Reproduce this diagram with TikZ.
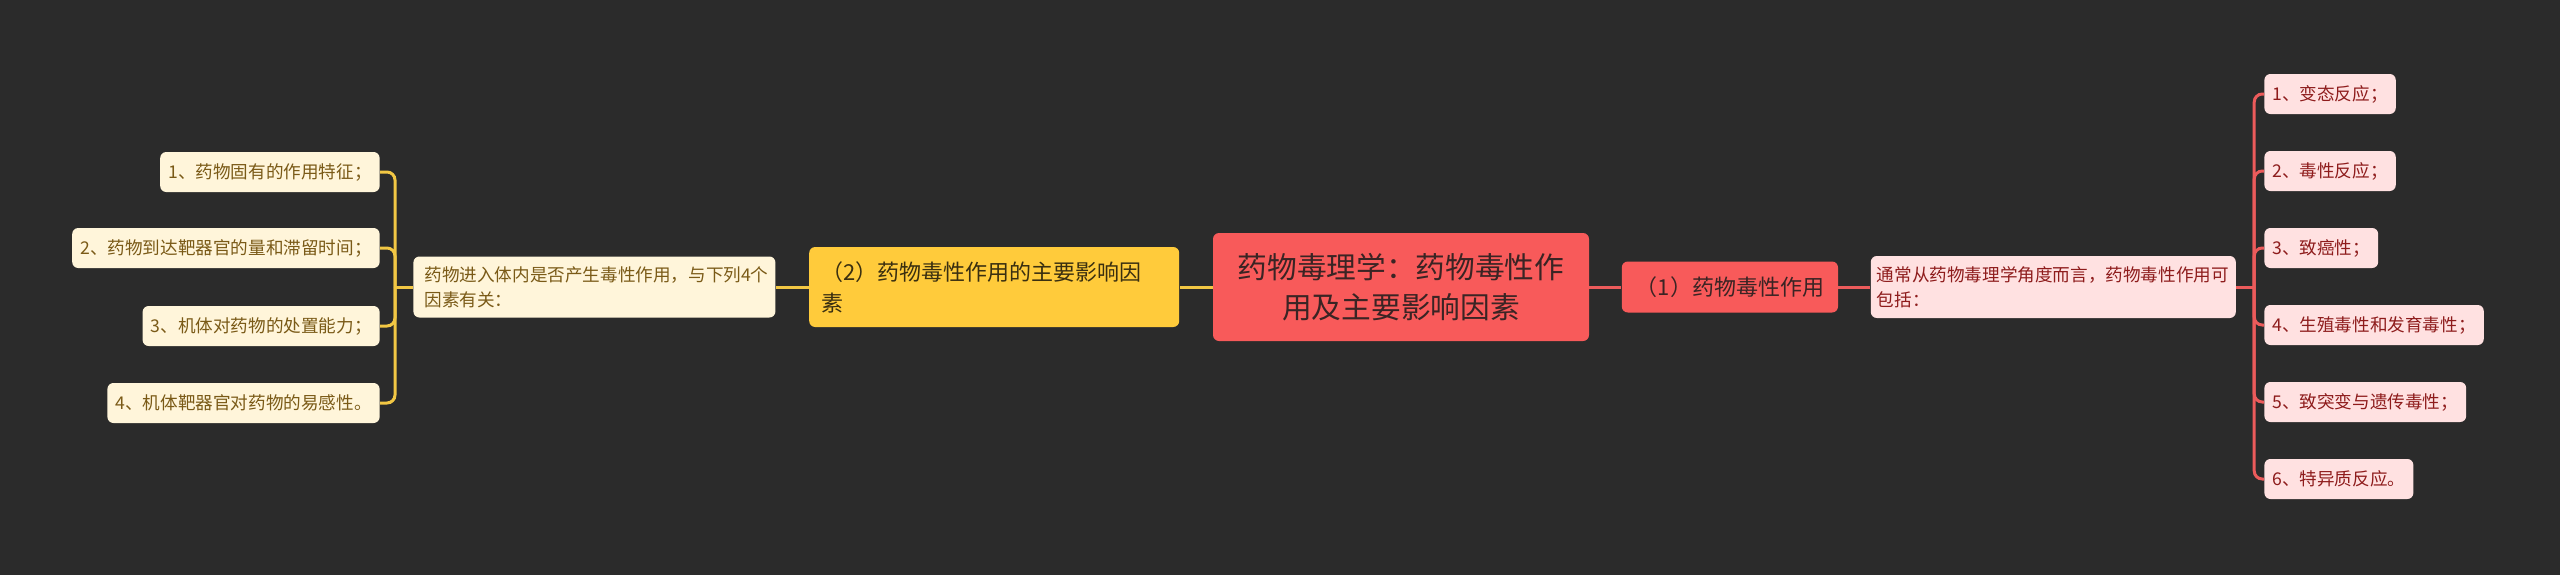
\documentclass[tikz,border=0pt]{standalone}
\usepackage{fontspec}
\setmainfont{Noto Sans CJK SC}
\usepackage{xcolor}
\usetikzlibrary{positioning}

\definecolor{bgcol}{HTML}{2B2B2B}
\definecolor{redfill}{HTML}{F85A5A}
\definecolor{redtext}{HTML}{3A2424}
\definecolor{yelfill}{HTML}{FFCB3B}
\definecolor{yeltext}{HTML}{3A2F10}
\definecolor{creamfill}{HTML}{FFF5DA}
\definecolor{creamtext}{HTML}{7A5A17}
\definecolor{pinkfill}{HTML}{FFE1E1}
\definecolor{pinktext}{HTML}{8E1C1C}
\definecolor{yelline}{HTML}{F2C744}
\definecolor{redline}{HTML}{EC5B5B}

\tikzset{
  box/.style={rounded corners=3pt, inner ysep=0pt},
  rootbox/.style={box, fill=redfill, text=redtext, font=\fontsize{14.85pt}{20pt}\selectfont,
    text width=165pt, align=center, inner xsep=11.5pt, minimum height=54pt},
  yelbox/.style={box, fill=yelfill, text=yeltext, font=\fontsize{11pt}{15.5pt}\selectfont,
    text width=173pt, align=left, inner xsep=6pt, minimum height=40pt},
  redbox/.style={box, fill=redfill, text=redtext, font=\fontsize{11pt}{15.5pt}\selectfont,
    inner xsep=7pt, minimum height=25.5pt},
  creambox/.style={box, fill=creamfill, text=creamtext, font=\fontsize{8.8pt}{12.5pt}\selectfont,
    align=left, inner xsep=5.5pt, minimum height=30.5pt},
  pinkbox/.style={box, fill=pinkfill, text=pinktext, font=\fontsize{8.8pt}{12.5pt}\selectfont,
    align=left, inner xsep=3pt, minimum height=31pt},
  leafl/.style={creambox, anchor=east, inner xsep=4pt, minimum height=20pt},
  leafr/.style={pinkbox, anchor=west, inner xsep=4pt, minimum height=20pt},
  ylink/.style={draw=yelline, line width=1.5pt, rounded corners=4pt},
  rlink/.style={draw=redline, line width=1.5pt, rounded corners=4pt}
}

\begin{document}
\begin{tikzpicture}[x=0.5pt, y=-0.5pt]
  \useasboundingbox (0,0) rectangle (2560,574);
  \fill[bgcol] (-4,-4) rectangle (2564,578);

  \node(root) [rootbox] at (1401,287) {药物毒理学：药物毒性作\\用及主要影响因素};

  \node(factor) [yelbox, left=16.5pt of root] {（2）药物毒性作用的主要影响因\\素};
  \node(enter) [creambox, text width=170pt, left=16.5pt of factor] {药物进入体内是否产生毒性作用，与下列4个\\因素有关：};
  \coordinate[left=9pt of enter] (ljoint);
  \node(fa) [leafl] at (380,172) {1、药物固有的作用特征；};
  \node(fb) [leafl] at (380,248) {2、药物到达靶器官的量和滞留时间；};
  \node(fc) [leafl] at (380,326) {3、机体对药物的处置能力；};
  \node(fd) [leafl] at (380,403) {4、机体靶器官对药物的易感性。};

  \node(toxic) [redbox, right=16pt of root] {（1）药物毒性作用};
  \node(usual) [pinkbox, text width=176.5pt, right=16pt of toxic] {通常从药物毒理学角度而言，药物毒性作用可\\包括：};
  \coordinate[right=9pt of usual] (rjoint);
  \node(ta) [leafr] at (2264,94) {1、变态反应；};
  \node(tb) [leafr] at (2264,171) {2、毒性反应；};
  \node(tc) [leafr] at (2264,248) {3、致癌性；};
  \node(td) [leafr] at (2264,325) {4、生殖毒性和发育毒性；};
  \node(te) [leafr] at (2264,402) {5、致突变与遗传毒性；};
  \node(tf) [leafr] at (2264,479) {6、特异质反应。};

  \draw[ylink] (root) -- (factor);
  \draw[ylink] (factor) -- (enter);
  \draw[ylink] (enter) -- (ljoint);
  \draw[ylink] (ljoint) |- (fa.east);
  \draw[ylink] (ljoint) |- (fb.east);
  \draw[ylink] (ljoint) |- (fc.east);
  \draw[ylink] (ljoint) |- (fd.east);

  \draw[rlink] (root) -- (toxic);
  \draw[rlink] (toxic) -- (usual);
  \draw[rlink] (usual) -- (rjoint);
  \draw[rlink] (rjoint) |- (ta.west);
  \draw[rlink] (rjoint) |- (tb.west);
  \draw[rlink] (rjoint) |- (tc.west);
  \draw[rlink] (rjoint) |- (td.west);
  \draw[rlink] (rjoint) |- (te.west);
  \draw[rlink] (rjoint) |- (tf.west);
\end{tikzpicture}
\end{document}
